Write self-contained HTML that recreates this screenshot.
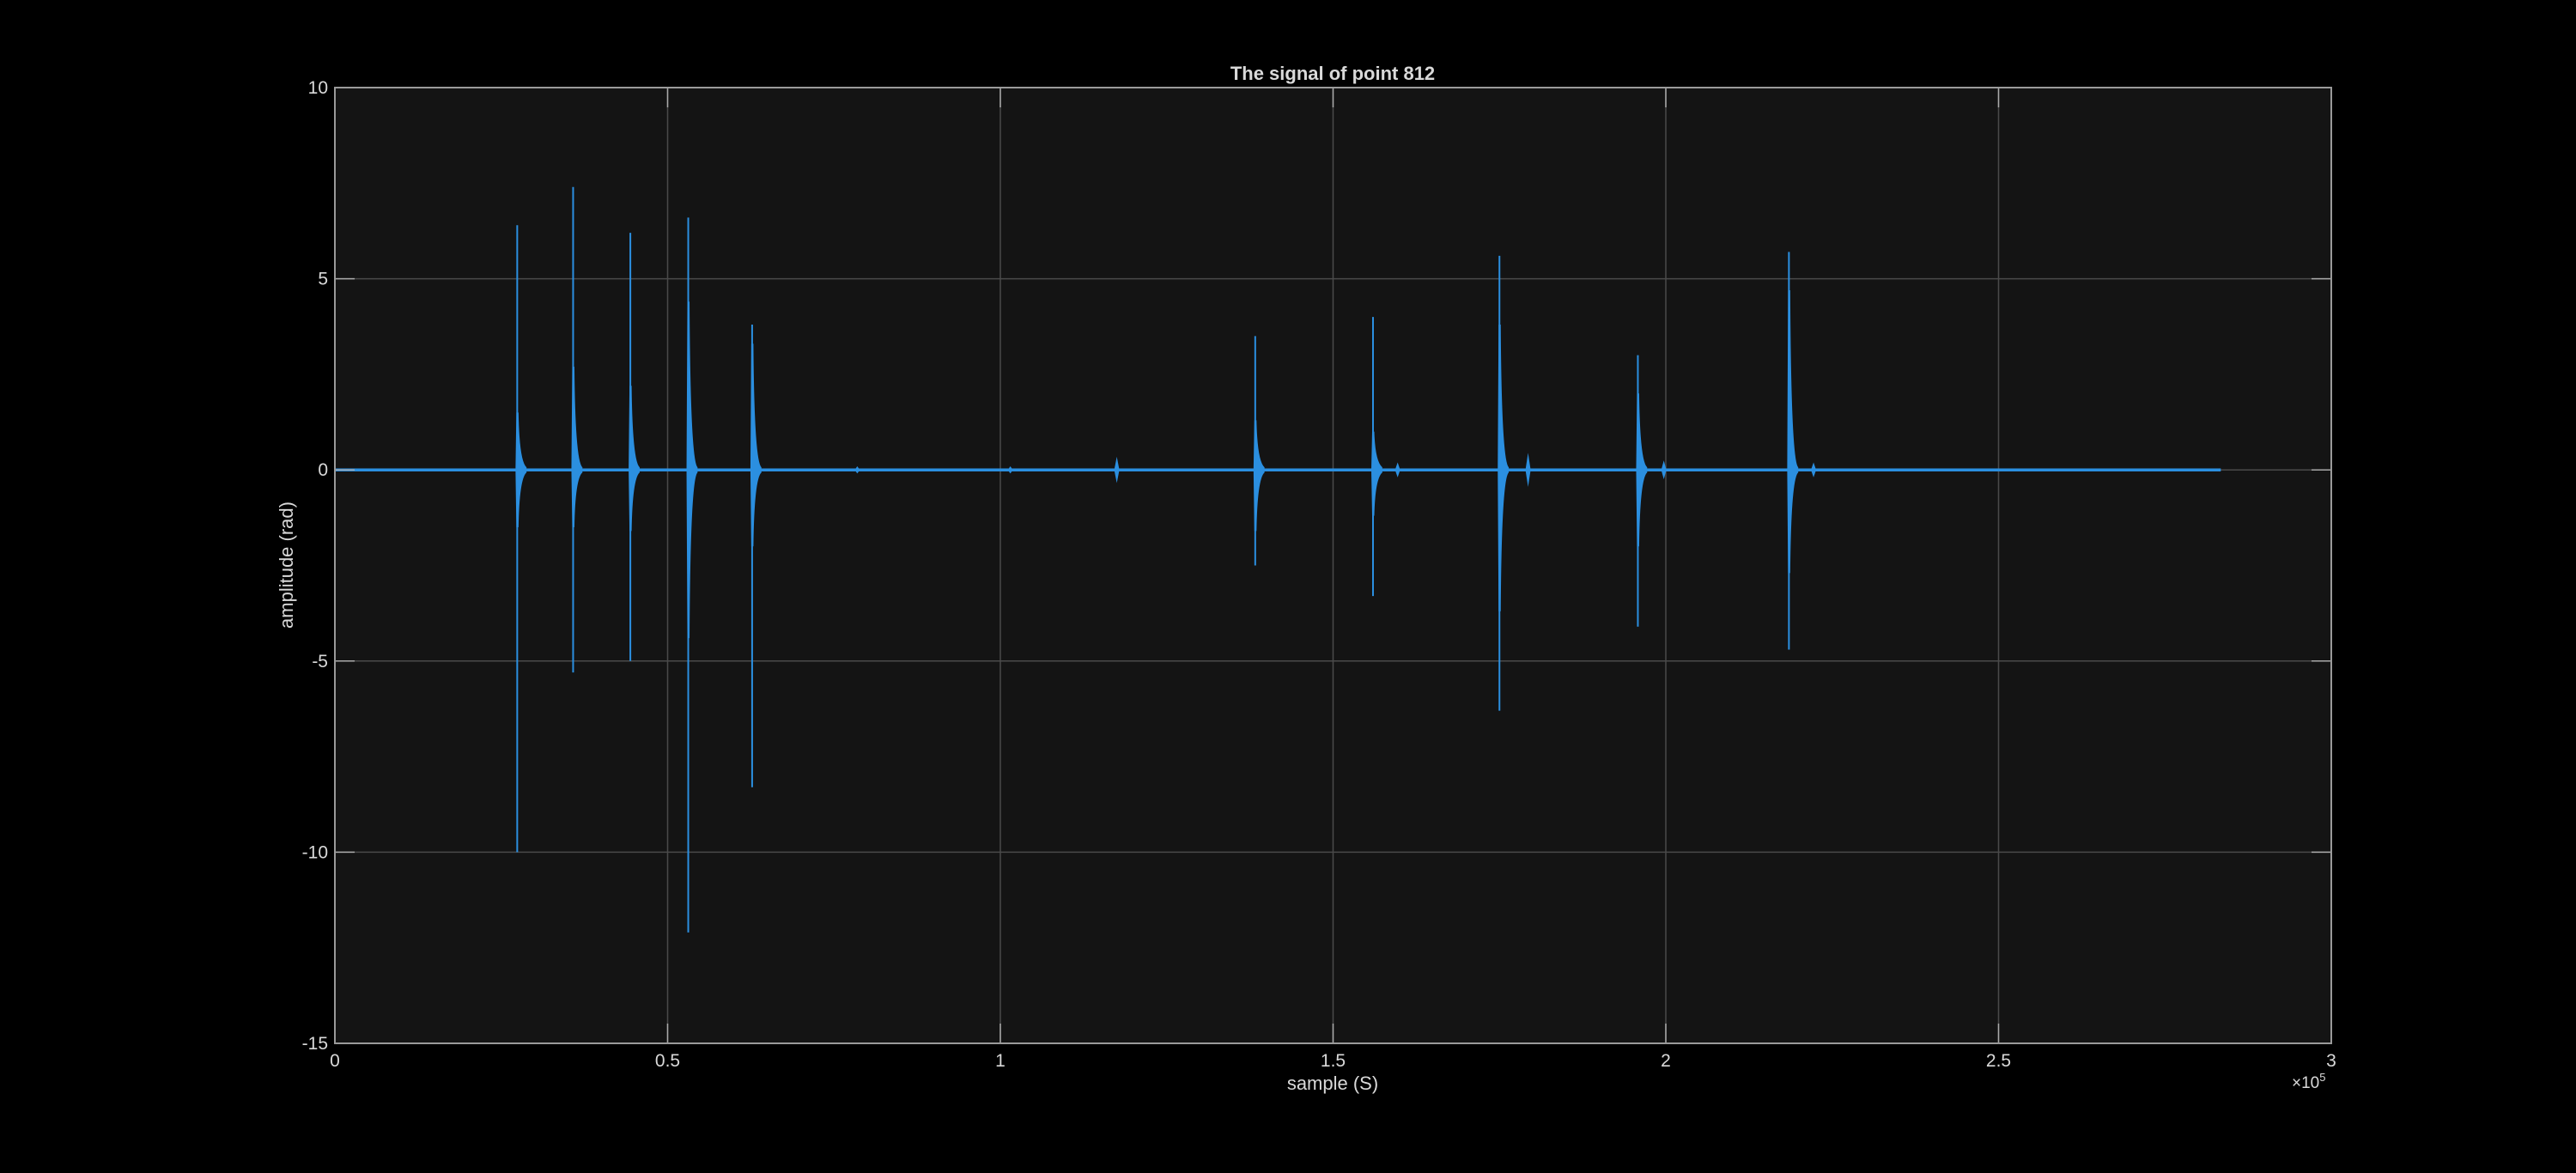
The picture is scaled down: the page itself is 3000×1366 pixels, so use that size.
<!DOCTYPE html>
<html><head><meta charset="utf-8"><style>
html,body{margin:0;padding:0;background:#000;}
svg{display:block;}
text{font-family:"Liberation Sans",Arial,sans-serif;fill:#d9d9d9;}
</style></head><body>
<svg id="chart" width="3000" height="1366" viewBox="0 0 3000 1366" xmlns="http://www.w3.org/2000/svg">
<rect width="3000" height="1366" fill="#000"/>
<rect x="390" y="102" width="2325" height="1113" fill="#141414"/>
<g id="grid"></g>
<g id="series"></g>
<g id="axes"></g>
<text x="1552" y="93" font-size="22" font-weight="bold" text-anchor="middle">The signal of point 812</text>
<text x="1552" y="1269" font-size="22" text-anchor="middle">sample (S)</text>
<text transform="translate(341,658) rotate(-90)" font-size="22" text-anchor="middle">amplitude (rad)</text>
<text x="2669" y="1267" font-size="19">×10<tspan font-size="13" dy="-8">5</tspan></text>
</svg>
<script>
const xTicks=[0,50000,100000,150000,200000,250000,300000];
const xTickLabels=["0","0.5","1","1.5","2","2.5","3"];
const yTicks=[10,5,0,-5,-10,-15];
const yTickLabels=["10","5","0","-5","-10","-15"];
const eventPos=[27400,35800,44400,53100,62700,138300,156000,175000,195800,218500];
const eventMax=[6.4,7.4,6.2,6.6,3.8,3.5,4.0,5.6,3.0,5.7];
const eventMin=[-10.0,-5.3,-5.0,-12.1,-8.3,-2.5,-3.3,-6.3,-4.1,-4.7];
const coreUp=[1.5,2.7,2.2,4.4,3.3,1.3,1.0,3.8,2.0,4.7];
const coreDn=[-1.5,-1.5,-1.6,-4.4,-2.0,-1.6,-1.2,-3.7,-2.0,-2.7];
const smallPos=[78500,101500,117500,159700,179300,199700,222200];
const smallAmp=[0.05,0.05,0.3,0.15,0.4,0.2,0.15];
const signalEnd=283400;

const NS="http://www.w3.org/2000/svg";
const X0=390,X1=2715,Y0=102,Y1=1215;
function xs(s){return X0+s/300000*(X1-X0);}
function ys(v){return Y0+(10-v)/25*(Y1-Y0);}
function mk(tag,attrs,parent){const e=document.createElementNS(NS,tag);for(const k in attrs)e.setAttribute(k,attrs[k]);parent.appendChild(e);return e;}
const grid=document.getElementById('grid'),series=document.getElementById('series'),axes=document.getElementById('axes');
const BLUE="#2b8fe0";

xTicks.forEach((t,i)=>{
  const x=xs(t);
  const g=mk('line',{x1:x,x2:x,y1:Y0,y2:Y1,stroke:"#4a4a4a","stroke-width":1.5},grid);
  
  
  const tk=mk('line',{x1:x,x2:x,y1:Y1,y2:Y1-23,stroke:"#aaa","stroke-width":1.5},axes);
  
  
  const tk2=mk('line',{x1:x,x2:x,y1:Y0,y2:Y0+23,stroke:"#aaa","stroke-width":1.5},axes);
  
  
  const tx=mk('text',{x:x,y:1242,"font-size":21,"text-anchor":"middle"},axes);
  tx.textContent=xTickLabels[i];
  
  
});
yTicks.forEach((t,i)=>{
  const y=ys(t);
  const g=mk('line',{x1:X0,x2:X1,y1:y,y2:y,stroke:"#4a4a4a","stroke-width":1.5},grid);
  
  
  const tk=mk('line',{x1:X0,x2:X0+23,y1:y,y2:y,stroke:"#aaa","stroke-width":1.5},axes);
  
  
  const tk2=mk('line',{x1:X1,x2:X1-23,y1:y,y2:y,stroke:"#aaa","stroke-width":1.5},axes);
  
  
  const tx=mk('text',{x:382,y:y+7,"font-size":21,"text-anchor":"end"},axes);
  tx.textContent=yTickLabels[i];
  
  
});
const frame=mk('rect',{x:X0,y:Y0,width:X1-X0,height:Y1-Y0,fill:"none",stroke:"#9a9a9a","stroke-width":2},axes);



const base=mk('line',{x1:xs(0),x2:xs(signalEnd),y1:ys(0),y2:ys(0),stroke:BLUE,"stroke-width":3.5},series);



eventPos.forEach((p,i)=>{
  const x=xs(p);
  const sp=mk('line',{x1:x,x2:x,y1:ys(eventMax[i]),y2:ys(eventMin[i]),stroke:BLUE,"stroke-width":2},series);
  
  
  const w=xs(p+1400)-x;
  const up=ys(coreUp[i]),dn=ys(coreDn[i]),c=ys(0);
  const d=`M${x-2},${c} L${x-1},${up} L${x+1.5},${up} Q${x+2.5},${c-10} ${x+w},${c-3} L${x+w},${c+3} Q${x+2.5},${c+10} ${x+1.5},${dn} L${x-1},${dn} Z`;
  const env=mk('path',{d:d,fill:BLUE},series);
  
  
});
smallPos.forEach((p,i)=>{
  const x=xs(p),h=smallAmp[i]/25*(Y1-Y0)+2;
  const d=`M${x-3},${ys(0)} L${x},${ys(0)-h} L${x+3},${ys(0)} L${x},${ys(0)+h} Z`;
  const b=mk('path',{d:d,fill:BLUE},series);
  
  
});
</script>
</body></html>
